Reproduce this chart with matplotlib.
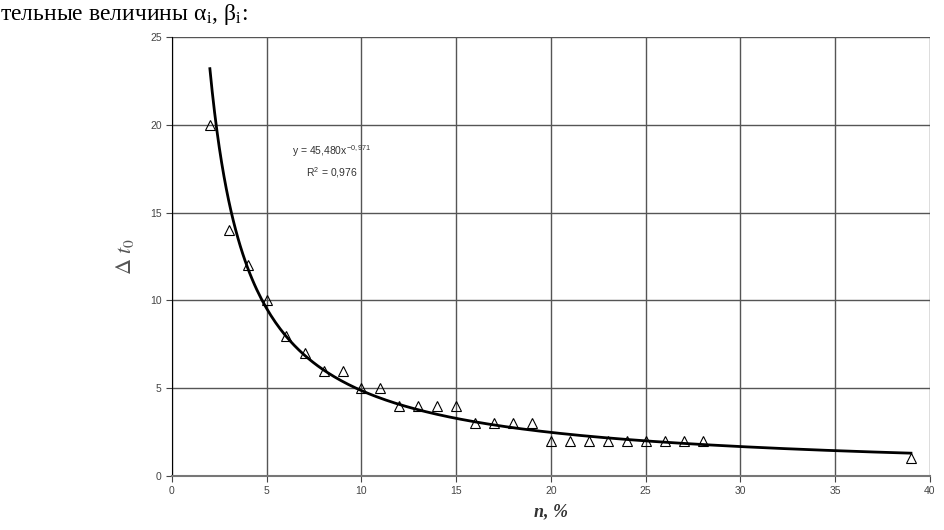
import numpy as np
import matplotlib
matplotlib.use('Agg')
import matplotlib.pyplot as plt

# Экспериментальные точки
n_vals = [2, 3, 4, 5, 6, 7, 8, 9, 10, 11, 12, 13, 14, 15, 16, 17, 18, 19,
          20, 21, 22, 23, 24, 25, 26, 27, 28, 39]
dt_vals = [20, 14, 12, 10, 8, 7, 6, 6, 5, 5, 4, 4, 4, 4, 3, 3, 3, 3,
           2, 2, 2, 2, 2, 2, 2, 2, 2, 1]

# Коэффициенты степенного тренда (с графика)
coef_a = 45.480
coef_b = -0.971
r2 = 0.976

x_ticks = [0, 5, 10, 15, 20, 25, 30, 35, 40]
y_ticks = [0, 5, 10, 15, 20, 25]

plt.rcParams['mathtext.fontset'] = 'stix'

fig = plt.figure(figsize=(9.45, 5.3), dpi=100)
ax = fig.add_axes([0.182, 0.102, 0.802, 0.828])

# линия тренда
xs = np.linspace(min(n_vals), max(n_vals), 300)
ax.plot(xs, coef_a * xs ** coef_b, color='black', lw=2, zorder=3)
ax.plot(n_vals, dt_vals, linestyle='none', marker='^', markersize=7,
        markerfacecolor='none', markeredgecolor='black', markeredgewidth=0.8, zorder=4)

ax.set_xlim(0, 40)
ax.set_ylim(0, 25)
ax.set_xticks(x_ticks)
ax.set_yticks(y_ticks)
ax.grid(True, color='#555555', lw=1)
ax.set_axisbelow(True)
for side in ['top', 'right']:
    ax.spines[side].set_visible(False)
ax.spines['left'].set_color('black')
ax.spines['bottom'].set_color('#777777')
ax.spines['bottom'].set_linewidth(1.5)
ax.tick_params(labelsize=7.5, colors='#444444', length=4, direction='out')
for lab in ax.get_xticklabels() + ax.get_yticklabels():
    lab.set_family('Liberation Sans')

ax.set_xlabel('n, %', family='Liberation Serif', fontsize=13, fontweight='bold',
              style='italic', color='#333333', labelpad=5)
ax.set_ylabel(r'$\Delta\ t_0$', fontsize=16, color='#555555', labelpad=10)

ax.text(8.45, 17.9, 'y = 45,480x$^{\\mathregular{-0,971}}$\nR$^{\\mathregular{2}}$ = 0,976',
        fontsize=7.5, family='Liberation Sans', ha='center', va='center',
        color='#333333', linespacing=1.6)

fig.text(0.0, 0.997, 'тельные величины α$_\\mathregular{i}$, β$_\\mathregular{i}$:',
         family='Liberation Serif', fontsize=17, ha='left', va='top')

fig.savefig('out.png', dpi=100)
